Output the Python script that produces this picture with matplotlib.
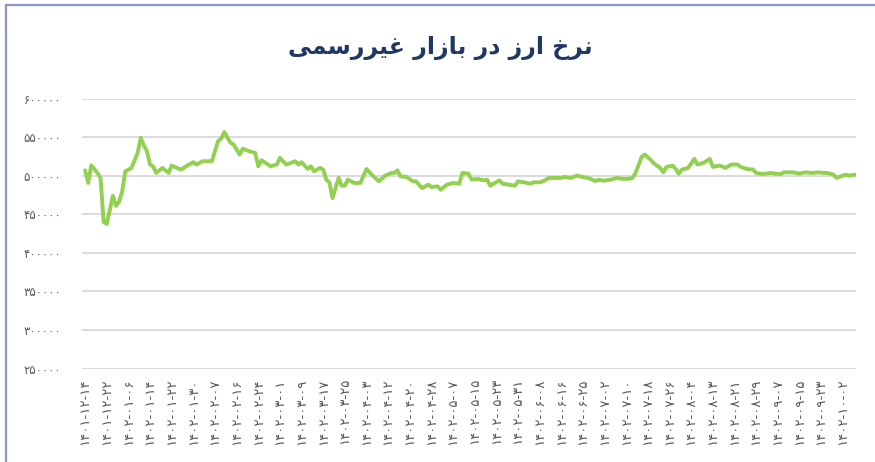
import matplotlib
matplotlib.use("Agg")
import matplotlib.pyplot as plt
from matplotlib.patches import Rectangle

# trading-day index (one point per market day) and rate in rials
days = [0, 1, 2, 4, 5, 6, 7, 8, 9, 10, 11, 12, 13, 15, 17, 18, 19, 20, 21, 22,
        23, 25, 27, 28, 31, 33, 35, 36, 38, 41, 43, 44, 45, 47, 48, 50, 51, 53, 55, 56,
        57, 60, 62, 63, 65, 68, 69, 70, 72, 73, 74, 76, 77, 78, 79, 80, 81, 82, 83, 84,
        85, 87, 89, 91, 93, 95, 97, 99, 100, 101, 102, 104, 106, 107, 109, 111, 112, 114, 115, 117,
        119, 121, 122, 124, 125, 127, 129, 130, 131, 134, 135, 137, 139, 140, 142, 144, 145, 147, 148, 150,
        152, 154, 155, 157, 159, 161, 163, 165, 166, 168, 170, 172, 174, 176, 177, 178, 180, 181, 183, 184,
        186, 187, 188, 190, 191, 192, 193, 195, 196, 197, 198, 200, 202, 203, 205, 206, 207, 209, 211, 212,
        214, 216, 217, 219, 220, 222, 223, 225, 226, 228, 229, 231, 233, 235, 237, 239, 240, 242, 243, 245,
        246, 247, 249]
rates = [506900, 490500, 513400, 503500, 497000, 440000, 437300, 455600, 473900, 460800,
         466400, 479500, 505600, 510000, 529600, 549200, 539200, 531700, 514400, 512100,
         503500, 510000, 503500, 513000, 507800, 513000, 517400, 514400, 518700, 518700,
         544800, 547900, 556500, 542700, 540500, 527400, 534900, 531700, 529600, 512100,
         520000, 512100, 514400, 523100, 514400, 518700, 514400, 517400, 508700, 512100,
         505600, 510000, 507800, 494800, 491300, 471000, 483900, 497000, 487000, 487000,
         494800, 490500, 490500, 508700, 500000, 492600, 500000, 503500, 503500, 506900,
         499100, 498300, 492600, 492600, 483900, 488300, 485300, 486100, 481700, 488300,
         490500, 489600, 503500, 502600, 494800, 495700, 493900, 494800, 487000, 493900,
         489600, 488300, 487000, 492600, 491300, 489600, 491300, 491300, 492600, 497000,
         497000, 497000, 498300, 497000, 500000, 498300, 496500, 493000, 494500, 493500,
         494800, 497000, 495700, 496100, 497000, 503500, 524400, 527400, 520000, 515700,
         510000, 504300, 511300, 513000, 508700, 502600, 507800, 510000, 515700, 521800,
         514400, 516600, 521800, 511300, 513000, 512100, 510000, 514400, 514400, 511300,
         508700, 507800, 503500, 502200, 502600, 503500, 502600, 502200, 504300, 504300,
         504300, 502600, 504300, 503500, 504300, 503500, 503500, 501300, 497000, 500000,
         501300, 500000, 501300]

# one label every 7 trading days
date_labels = ['۱۴۰۱-۱۲-۱۴', '۱۴۰۱-۱۲-۲۲', '۱۴۰۲-۰۱-۰۶', '۱۴۰۲-۰۱-۱۴', '۱۴۰۲-۰۱-۲۲',
               '۱۴۰۲-۰۱-۳۰', '۱۴۰۲-۰۲-۰۷', '۱۴۰۲-۰۲-۱۶', '۱۴۰۲-۰۲-۲۴', '۱۴۰۲-۰۳-۰۱',
               '۱۴۰۲-۰۳-۰۹', '۱۴۰۲-۰۳-۱۷', '۱۴۰۲-۰۳-۲۵', '۱۴۰۲-۰۴-۰۳', '۱۴۰۲-۰۴-۱۲',
               '۱۴۰۲-۰۴-۲۰', '۱۴۰۲-۰۴-۲۸', '۱۴۰۲-۰۵-۰۷', '۱۴۰۲-۰۵-۱۵', '۱۴۰۲-۰۵-۲۳',
               '۱۴۰۲-۰۵-۳۱', '۱۴۰۲-۰۶-۰۸', '۱۴۰۲-۰۶-۱۶', '۱۴۰۲-۰۶-۲۵', '۱۴۰۲-۰۷-۰۲',
               '۱۴۰۲-۰۷-۱۰', '۱۴۰۲-۰۷-۱۸', '۱۴۰۲-۰۷-۲۶', '۱۴۰۲-۰۸-۰۴', '۱۴۰۲-۰۸-۱۳',
               '۱۴۰۲-۰۸-۲۱', '۱۴۰۲-۰۸-۲۹', '۱۴۰۲-۰۹-۰۷', '۱۴۰۲-۰۹-۱۵', '۱۴۰۲-۰۹-۲۳',
               '۱۴۰۲-۱۰-۰۲']
label_step = 7

y_ticks = [250000, 300000, 350000, 400000, 450000, 500000, 550000, 600000]
y_labels = ['۲۵۰۰۰۰', '۳۰۰۰۰۰', '۳۵۰۰۰۰', '۴۰۰۰۰۰', '۴۵۰۰۰۰', '۵۰۰۰۰۰', '۵۵۰۰۰۰', '۶۰۰۰۰۰']

# title "نرخ ارز در بازار غیررسمی" - joined letter forms, then reversed
# so it reads right to left (matplotlib does no Arabic shaping)
title_logical = 'ﻧﺮﺥ ﺍﺭﺯ ﺩﺭ ﺑﺎﺯﺍﺭ ﻏﻴﺮﺭﺳﻤﻰ'
title_visual = title_logical[::-1]

fig = plt.figure(figsize=(8.75, 4.62), dpi=100)
fig.patch.set_facecolor('white')

# outer chart frame
fig.patches.append(Rectangle((6 / 875, -0.05), 1.2, 1.05 - 4.5 / 462,
                             transform=fig.transFigure, fill=False,
                             edgecolor='#8a97c4', linewidth=1.6))

ax = fig.add_axes([82 / 875, 1 - 368.5 / 462, 774 / 875, 270 / 462])
ax.plot(days, rates, color='#92d050', linewidth=2.8, solid_joinstyle='round',
        solid_capstyle='round', zorder=3)

ax.set_xlim(-1, 249.3)
ax.set_ylim(250000, 600000)
ax.set_yticks(y_ticks)
ax.set_yticklabels(y_labels)
ax.set_xticks([i * label_step for i in range(len(date_labels))])
ax.set_xticklabels(date_labels, rotation=90)

ax.grid(axis='y', color='#d9d9d9', linewidth=1.3)
ax.set_axisbelow(True)
for s in ax.spines.values():
    s.set_visible(False)
ax.tick_params(axis='both', length=0, colors='#595959')
ax.tick_params(axis='y', pad=15, labelsize=8.5)
ax.tick_params(axis='x', pad=7, labelsize=9.5)

fig.text(0.503, 1 - 48 / 462, title_visual, ha='center', va='center',
         fontsize=17, fontweight='bold', color='#1f3864', family='DejaVu Sans')

fig.savefig('out.png', dpi=100, facecolor='white')
